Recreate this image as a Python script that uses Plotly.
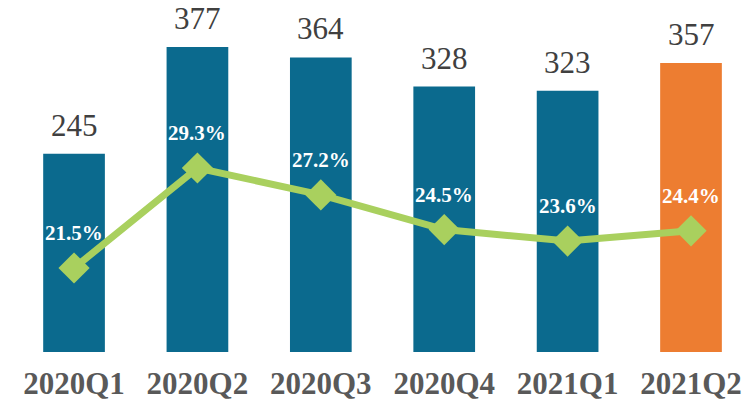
import plotly.graph_objects as go

categories = ["2020Q1", "2020Q2", "2020Q3", "2020Q4", "2021Q1", "2021Q2"]
bar_values = [245, 377, 364, 328, 323, 357]
pct_values = [21.5, 29.3, 27.2, 24.5, 23.6, 24.4]
pct_labels = ["21.5%", "29.3%", "27.2%", "24.5%", "23.6%", "24.4%"]

BLUE = "#0B6A8E"
ORANGE = "#ED7D31"
GREEN = "#A9D05E"
bar_colors = [BLUE] * 5 + [ORANGE]
SERIF = "Times New Roman, Liberation Serif, DejaVu Serif, serif"

fig = go.Figure()
fig.add_trace(go.Bar(
    x=categories, y=bar_values, marker=dict(color=bar_colors, line=dict(width=0)),
    width=0.5, showlegend=False, hoverinfo="skip"))
fig.add_trace(go.Scatter(
    x=categories, y=pct_values, yaxis="y2", mode="lines+markers",
    line=dict(color=GREEN, width=7),
    marker=dict(symbol="diamond", size=24, color=GREEN),
    showlegend=False, hoverinfo="skip"))

annotations = []
for c, v in zip(categories, bar_values):
    annotations.append(dict(
        x=c, y=v, xref="x", yref="y", text=str(v), showarrow=False,
        yanchor="bottom", yshift=9,
        font=dict(family=SERIF, size=31, color="#404040")))
for c, p, t in zip(categories, pct_values, pct_labels):
    annotations.append(dict(
        x=c, y=p, xref="x", yref="y2", text="<b>" + t + "</b>", showarrow=False,
        yanchor="middle", yshift=35,
        font=dict(family=SERIF, size=21, color="white")))

fig.update_layout(
    width=749, height=405,
    margin=dict(l=0, r=0, t=0, b=53),
    paper_bgcolor="white", plot_bgcolor="white",
    bargap=0.5,
    xaxis=dict(type="category", range=[-0.6, 5.47], showgrid=False, zeroline=False,
               showline=False, ticks="", ticklabelstandoff=10,
               tickfont=dict(family=SERIF, size=31, color="#595959", weight="bold")),
    yaxis=dict(range=[0, 435], visible=False, showgrid=False),
    yaxis2=dict(range=[14.95, 42.4], overlaying="y", side="right", visible=False, showgrid=False),
    annotations=annotations,
)

fig.write_html("out.html")
